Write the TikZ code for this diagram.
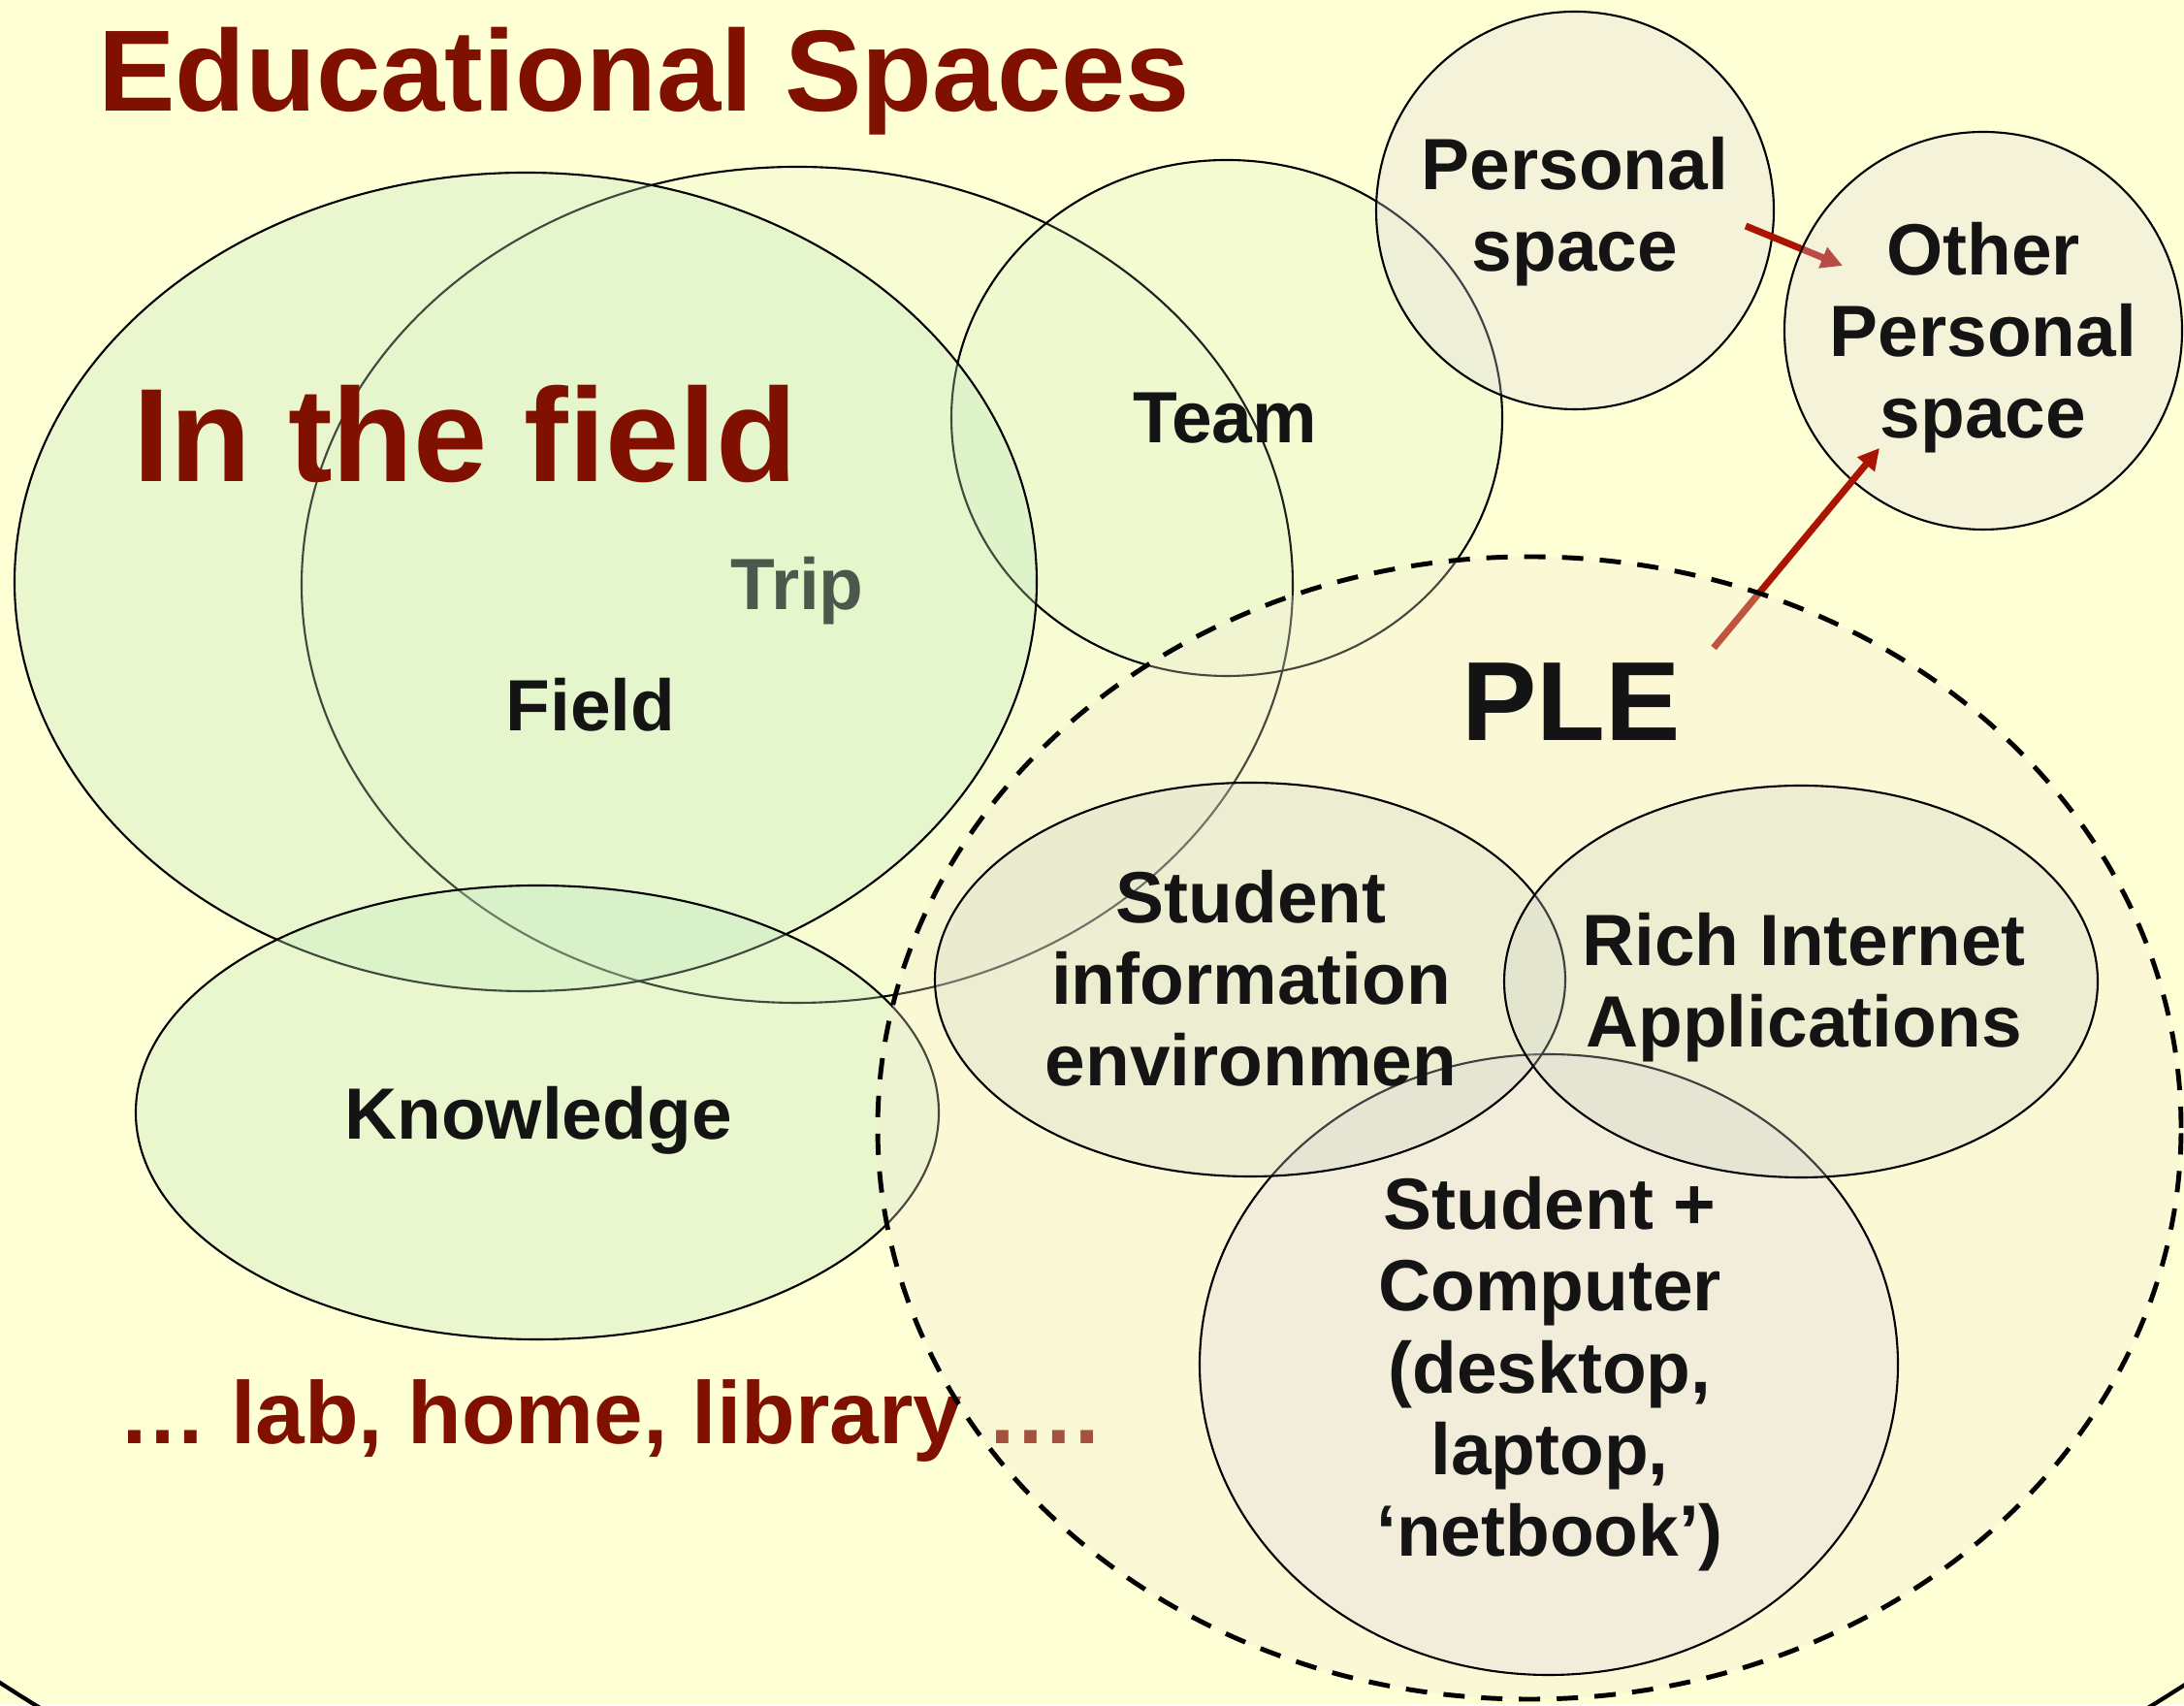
\documentclass[tikz,border=0pt]{standalone}
\usepackage{fontspec}
\setmainfont{Liberation Sans}
\usetikzlibrary{arrows.meta}

\definecolor{slidebg}{RGB}{255,255,213}
\definecolor{maroon}{RGB}{128,16,0}
\definecolor{arrowred}{RGB}{170,20,0}
\definecolor{leafgreen}{RGB}{192,233,192}
\definecolor{lilac}{RGB}{222,212,232}
\definecolor{sage}{RGB}{205,212,200}
\definecolor{sand}{RGB}{245,235,215}

\tikzset{
	greenspace/.style={draw=black, line width=0.6pt, fill=leafgreen, fill opacity=0.32},
	ownspace/.style={draw=black, line width=0.6pt, fill=lilac, fill opacity=0.3},
	toolspace/.style={draw=black, line width=0.6pt, fill=sage, fill opacity=0.3},
	lbl/.style={font=\bfseries\fontsize{21.3}{24}\selectfont, text=black!92, align=center, inner sep=0pt, anchor=base},
	redlbl/.style={font=\bfseries, text=maroon, inner sep=0pt, anchor=base},
	pointer/.style={draw=arrowred, line width=2pt, -{Triangle[length=0.22cm,width=0.22cm]}},
}

\begin{document}
\begin{tikzpicture}
			%%%%% START %%%%%
			\useasboundingbox (0, 0) rectangle (22.52, 17.58);
			\clip (0, 0) rectangle (22.52, 17.58);
			\fill[slidebg] (0, 0) rectangle (22.52, 17.58);
			
			% outer frame, only its lower edge shows
			\draw[line width=1.2pt] (11.28, 8.98) ellipse (16.71 and 11.86);
			
			\node[redlbl, font=\bfseries\fontsize{33.9}{40}\selectfont] (title) at (6.64, 16.43) {Educational Spaces};
			
			% field spaces
			\draw[greenspace, fill opacity=0.1] (8.22, 11.55) ellipse (5.11 and 4.31);
			\node[lbl] (trip) at (8.22, 11.29) {Trip};
			\draw[greenspace, fill opacity=0.15] (12.65, 13.27) ellipse (2.84 and 2.66);
			\draw[greenspace] (5.42, 11.58) ellipse (5.27 and 4.22);
			\draw[greenspace] (5.54, 6.11) ellipse (4.14 and 2.34);
			
			\node[redlbl, font=\bfseries\fontsize{39}{46}\selectfont] (fieldtitle) at (4.80, 12.61) {In the field};
			\node[lbl] (field) at (6.09, 10.04) {Field};
			\node[lbl] (team) at (12.63, 13.01) {Team};
			\node[lbl] (knowledge) at (5.55, 5.83) {Knowledge};
			
			% personal spaces
			\draw[ownspace] (16.24, 15.41) circle (2.05);
			\coordinate (p1) at (18.00, 15.25);
			\coordinate (p2) at (19.00, 14.84);
			\draw[pointer] (p1) -- (p2);
			\draw[ownspace] (20.45, 14.17) circle (2.05);
			\coordinate (q1) at (17.67, 10.90);
			\coordinate (q2) at (19.38, 12.96);
			\draw[pointer] (q1) -- (q2);
			
			\node[lbl] (personal) at (16.24, 14.78) {Personal\\space};
			\node[lbl] (other) at (20.45, 13.06) {Other\\Personal\\space};
			
			\node[redlbl, font=\bfseries\fontsize{25.9}{30}\selectfont] (elsewhere) at (6.28, 2.70) {… lab, home, library ….};
			
			% the PLE
			\draw[line width=1.4pt, dash pattern=on 0.22cm off 0.17cm, fill=sand, fill opacity=0.3] (15.77, 5.95) ellipse (6.72 and 5.89);
			\draw[ownspace] (15.97, 3.51) ellipse (3.60 and 3.20);
			\draw[toolspace] (12.89, 7.48) ellipse (3.25 and 2.03);
			\draw[toolspace] (18.57, 7.46) ellipse (3.06 and 2.02);
			
			\node[lbl, font=\bfseries\fontsize{33}{40}\selectfont] (ple) at (16.20, 9.94) {PLE};
			\node[lbl] (sie) at (12.90, 6.38) {Student\\information\\environmen};
			\node[lbl] (ria) at (18.60, 6.78) {Rich Internet\\Applications};
			\node[lbl] (stc) at (15.98, 1.53) {Student +\\Computer\\(desktop,\\laptop,\\‘netbook’)};
			%%%%% END %%%%%
\end{tikzpicture}
\end{document}
